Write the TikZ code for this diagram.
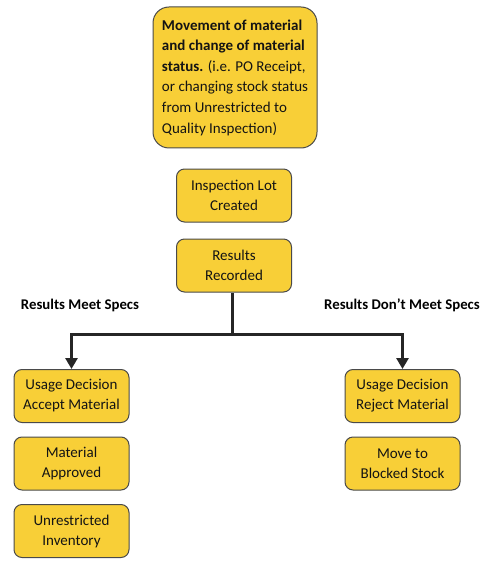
\documentclass[tikz,border=0pt]{standalone}
\usepackage{fontspec}
\setmainfont{Carlito}
\usetikzlibrary{arrows.meta}
\definecolor{boxfill}{HTML}{F8CF37}
\definecolor{boxline}{HTML}{4A4A4A}
\definecolor{conn}{HTML}{262626}
\definecolor{txt}{HTML}{141414}
\begin{document}
\begin{tikzpicture}[x=1pt,y=-1pt,
  box/.style={draw=boxline, line width=1pt, fill=boxfill, rounded corners=8pt,
    minimum width=115pt, minimum height=53pt, inner sep=2pt, align=center,
    text=txt, font=\fontsize{15}{20}\selectfont},
  bigbox/.style={draw=boxline, line width=1pt, fill=boxfill, rounded corners=16pt,
    minimum width=164pt, minimum height=141pt, inner sep=0pt, align=left,
    text=txt, font=\fontsize{15}{20.6}\selectfont},
  lbl/.style={font=\bfseries\fontsize{14.8}{17}\selectfont, text=black},
  conn/.style={draw=conn, line width=3pt},
  arr/.style={conn, -{Triangle[length=11pt,width=12pt]}}]
\useasboundingbox (0,0) rectangle (495,572);
\node[bigbox] (mv) at (235,77.5) {\textbf{Movement of material}\\\textbf{and change of material}\\\textbf{status.} (i.e. PO Receipt,\\or changing stock status\\from Unrestricted to\\Quality Inspection)};
\node[box] (il) at (234,195.5) {Inspection Lot\\Created};
\node[box] (rr) at (234,265.5) {Results\\Recorded};
\node[lbl] (lm) at (80,305) {Results Meet Specs};
\node[lbl] (ln) at (402,305) {Results Don’t Meet Specs};
\node[box] (ua) at (71.5,396) {Usage Decision\\Accept Material};
\node[box] (ma) at (71.5,463.5) {Material\\Approved};
\node[box] (ui) at (71.5,531) {Unrestricted\\Inventory};
\node[box] (ur) at (402.5,396) {Usage Decision\\Reject Material};
\node[box] (bs) at (402.5,463.5) {Move to\\Blocked Stock};
\coordinate (j) at (232,334);
\draw[conn] (rr.south -| j) -- (j);
\draw[arr] (j) -| (ua.north);
\draw[arr] (j) -| (ur.north);
\end{tikzpicture}
\end{document}
